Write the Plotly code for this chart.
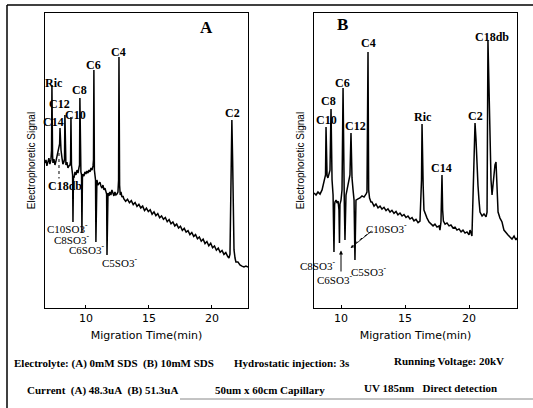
import plotly.graph_objects as go

# ---------------- data ----------------
# Panel A : 0 mM SDS   (time in min, signal in arbitrary units)
time_a = [
    6.75, 6.83, 6.90, 6.98, 7.06, 7.14, 7.22, 7.27, 7.30, 7.35, 7.38, 7.46, 7.54, 7.62, 7.70,
    7.78, 7.86, 7.91, 7.94, 7.98, 8.02, 8.10, 8.17, 8.25, 8.30, 8.33, 8.37, 8.41, 8.49, 8.57,
    8.65, 8.73, 8.78, 8.81, 8.85, 8.89, 8.94, 8.97, 9.01, 9.05, 9.13, 9.21, 9.29, 9.37, 9.44,
    9.49, 9.52, 9.56, 9.60, 9.65, 9.68, 9.72, 9.76, 9.84, 9.92, 10.00, 10.08, 10.16, 10.24, 10.32,
    10.40, 10.48, 10.56, 10.60, 10.63, 10.67, 10.71, 10.76, 10.79, 10.83, 10.87, 10.95, 11.03, 11.11, 11.19,
    11.27, 11.35, 11.43, 11.51, 11.59, 11.64, 11.67, 11.71, 11.75, 11.83, 11.90, 11.98, 12.06, 12.14, 12.22,
    12.30, 12.38, 12.46, 12.54, 12.59, 12.62, 12.67, 12.72, 12.78, 12.86, 12.94,
    13.00, 13.15, 13.30, 13.45, 13.60, 13.75, 13.90, 14.05, 14.20, 14.35, 14.50, 14.65, 14.80, 14.95,
    15.10, 15.25, 15.40, 15.55, 15.70, 15.85, 16.00, 16.15, 16.30, 16.45, 16.60, 16.75, 16.90, 17.05,
    17.20, 17.35, 17.50, 17.65, 17.80, 17.95, 18.10, 18.25, 18.40, 18.55, 18.70, 18.85, 19.00, 19.15,
    19.30, 19.45, 19.60, 19.75, 19.90, 20.05, 20.20, 20.35, 20.50, 20.65, 20.80, 20.95, 21.10, 21.25,
    21.35, 21.43, 21.51, 21.58, 21.64, 21.70, 21.75, 21.83, 21.90, 22.06, 22.22, 22.38, 22.54, 22.70, 22.86,
]
signal_a = [
    45.7, 46.7, 44.7, 46.0, 47.3, 45.3, 46.7, 50.0, 71.7, 48.3, 45.7, 47.0, 45.0, 46.3, 47.7,
    49.3, 50.7, 52.0, 57.3, 50.7, 50.0, 47.3, 45.3, 46.0, 47.0, 61.7, 46.0, 45.0, 46.0, 44.0,
    44.7, 45.0, 46.3, 61.0, 45.0, 42.7, 41.7, 26.0, 41.3, 40.7, 42.7, 41.7, 43.3, 42.3, 44.0,
    45.0, 67.3, 44.0, 42.7, 41.7, 22.3, 40.7, 42.0, 41.3, 42.7, 42.0, 43.0, 42.3, 43.3, 42.7,
    44.0, 43.3, 44.7, 46.7, 76.7, 43.3, 40.7, 40.0, 19.3, 39.3, 40.0, 38.3, 39.0, 39.3, 38.0,
    37.3, 38.3, 36.7, 37.3, 36.0, 35.3, 15.0, 35.0, 35.7, 34.7, 36.0, 35.0, 36.7, 35.7, 34.7,
    36.0, 35.0, 35.3, 36.0, 40.0, 81.0, 38.3, 35.0, 36.0, 34.3, 34.7,
    33.8, 32.9, 33.6, 32.4, 33.1, 31.8, 32.5, 31.2, 31.9, 30.7, 31.3, 29.8, 30.6, 29.5,
    30.1, 28.6, 29.4, 28.1, 28.8, 27.4, 28.0, 26.9, 27.5, 26.1, 26.8, 25.4, 26.0, 24.7,
    25.3, 24.0, 24.6, 23.2, 23.9, 22.6, 23.1, 21.8, 22.5, 21.2, 21.8, 20.4, 21.0, 19.6,
    20.3, 18.8, 19.5, 18.1, 18.9, 17.4, 18.0, 16.6, 17.3, 15.9, 16.5, 15.2, 15.8, 14.5,
    14.0, 15.3, 33.3, 60.0, 46.7, 23.3, 16.7, 14.0, 12.7, 12.7, 11.7, 11.3, 11.0, 11.3, 11.0,
]

# Panel B : 10 mM SDS
time_b = [
    7.89, 8.05, 8.20, 8.36, 8.52, 8.59, 8.67, 8.75, 8.79, 8.83, 8.87, 8.91, 8.98, 9.06, 9.14,
    9.22, 9.27, 9.30, 9.38, 9.45, 9.50, 9.53, 9.61, 9.69, 9.77, 9.84, 9.88, 9.92, 10.00, 10.08,
    10.16, 10.20, 10.26, 10.31, 10.37, 10.39, 10.47, 10.55, 10.63, 10.70, 10.78, 10.84, 10.86, 10.94, 11.02,
    11.09, 11.15, 11.17, 11.33, 11.48, 11.64, 11.80, 11.95, 12.03, 12.11, 12.16, 12.23, 12.34,
    12.42, 12.58, 12.73, 12.89, 13.05, 13.20, 13.36, 13.52, 13.67, 13.83, 13.98, 14.14, 14.30, 14.45,
    14.61, 14.77, 14.92, 15.08, 15.23, 15.39, 15.55, 15.70, 15.86, 16.02, 16.17,
    16.29, 16.33, 16.37, 16.42, 16.48, 16.56, 16.72, 16.88, 17.03, 17.19, 17.34, 17.50, 17.66, 17.73, 17.81,
    17.89, 17.94, 18.00, 18.13, 18.28, 18.44, 18.59, 18.75, 18.91, 19.06, 19.22, 19.38, 19.53, 19.69, 19.84,
    20.00, 20.08, 20.23, 20.31, 20.39, 20.47, 20.55, 20.63, 20.70, 20.78, 20.86, 21.02, 21.17, 21.33, 21.41,
    21.48, 21.56, 21.64, 21.72, 21.80, 21.88, 21.95, 22.03, 22.11, 22.19, 22.27, 22.42, 22.58, 22.73, 22.89,
    23.05, 23.20, 23.36, 23.52, 23.67, 23.75,
]
signal_b = [
    35.7, 35.0, 36.0, 35.3, 36.7, 38.3, 40.0, 40.7, 41.7, 57.7, 42.7, 41.3, 40.7, 42.0, 43.3,
    63.7, 41.7, 40.0, 35.0, 16.0, 31.7, 32.7, 33.3, 32.3, 33.0, 30.0, 19.0, 32.0, 33.3, 36.7,
    70.7, 36.7, 31.7, 20.0, 33.3, 35.0, 36.7, 38.3, 40.0, 41.7, 55.7, 43.3, 40.7, 36.7, 33.3,
    13.3, 31.7, 33.3, 33.7, 34.0, 34.7, 34.3, 35.3, 36.0, 82.7, 36.7, 34.0, 32.7,
    32.7, 31.3, 32.0, 30.7, 31.3, 30.3, 30.9, 29.8, 30.4, 29.3, 29.9, 28.9, 29.5, 28.4,
    29.0, 28.0, 28.5, 27.5, 28.0, 27.0, 27.5, 26.4, 26.9, 25.8, 26.3,
    40.0, 58.7, 45.0, 38.0, 30.0, 29.0, 27.3, 26.0, 25.3, 24.7, 25.3, 24.3, 24.7, 23.3, 26.0,
    41.7, 30.0, 26.3, 25.3, 25.7, 24.7, 25.0, 24.0, 24.3, 23.3, 23.7, 22.7, 23.3, 22.3, 22.7,
    21.7, 23.3, 21.3, 33.3, 53.3, 59.0, 53.3, 42.7, 38.3, 33.3, 29.3, 28.0, 28.7, 27.7, 29.3,
    86.7, 70.0, 50.0, 40.0, 35.0, 38.3, 43.3, 45.0, 46.0, 38.3, 29.3, 27.3, 26.0, 23.3, 22.3,
    21.7, 21.0, 20.3, 21.3, 20.0, 20.7,
]

x_ticks = [10, 15, 20]
peak_names_a = ["Ric", "C12", "C14", "C10", "C8", "C6", "C4", "C2"]
dip_names_a = ["C10SO3<sup>-</sup>", "C8SO3<sup>-</sup>", "C6SO3<sup>-</sup>", "C5SO3<sup>-</sup>"]
peak_names_b = ["C10", "C8", "C6", "C12", "C4", "Ric", "C14", "C2", "C18db"]
dip_names_b = ["C8SO3<sup>-</sup>", "C6SO3<sup>-</sup>", "C5SO3<sup>-</sup>", "C10SO3<sup>-</sup>"]
notes = [
    "Electrolyte: (A) 0mM SDS\u00a0\u00a0(B) 10mM SDS",
    "Hydrostatic injection: 3s",
    "Running Voltage: 20kV",
    "Current\u00a0\u00a0(A) 48.3uA\u00a0\u00a0(B) 51.3uA",
    "50um x 60cm Capillary",
    "UV 185nm\u00a0\u00a0\u00a0Direct detection",
]

# ---------------- figure ----------------
W, H = 533, 408
fig = go.Figure()
line_style = dict(color="black", width=1.5)
fig.add_trace(go.Scatter(x=time_a, y=signal_a, mode="lines", line=line_style,
                         xaxis="x", yaxis="y", showlegend=False, hoverinfo="x+y"))
fig.add_trace(go.Scatter(x=time_b, y=signal_b, mode="lines", line=line_style,
                         xaxis="x2", yaxis="y2", showlegend=False, hoverinfo="x+y"))

def px(x):
    return x / W

def py(y):
    return 1 - y / H

sans = "DejaVu Sans"
serif = "Liberation Serif"

xaxis_common = dict(
    showline=True, linecolor="black", linewidth=1.3, mirror=True,
    showgrid=False, zeroline=False, ticks="inside", ticklen=3, tickcolor="black",
    tickvals=x_ticks, tickfont=dict(family=sans, size=11, color="black"),
    title=dict(text="Migration Time(min)", font=dict(family=sans, size=11, color="black"), standoff=6),
    automargin=False,
)
yaxis_common = dict(
    showline=True, linecolor="black", linewidth=1.3, mirror=True,
    showgrid=False, zeroline=False, showticklabels=False, ticks="",
    range=[-2.667, 95.667],
    title=dict(text="Electrophoretic Signal", font=dict(family="Liberation Sans", size=10, color="black"), standoff=6),
    automargin=False,
)

fig.update_layout(
    width=W, height=H,
    margin=dict(l=0, r=0, t=0, b=0),
    paper_bgcolor="white", plot_bgcolor="white",
    xaxis=dict(domain=[px(45), px(248)], range=[6.75, 22.86], anchor="y", **xaxis_common),
    yaxis=dict(domain=[py(308), py(13)], anchor="x", **yaxis_common),
    xaxis2=dict(domain=[px(314), px(517)], range=[7.89, 23.75], anchor="y2", **xaxis_common),
    yaxis2=dict(domain=[py(308), py(13)], anchor="x2", **yaxis_common),
)

annotations = []

def label(text, x, y, ax_ref, size=12, bold=True):
    annotations.append(dict(
        text=f"<b>{text}</b>" if bold else text, x=x, y=y, xref=ax_ref[0], yref=ax_ref[1],
        showarrow=False, font=dict(family=serif, size=size, color="black"),
        xanchor="center", yanchor="middle"))

# panel A peak labels (placed near their peaks)
pos_a = [(7.46, 72.3), (7.88, 65.3), (7.46, 59.3), (9.18, 61.7), (9.52, 70.0),
         (10.63, 78.3), (12.62, 82.7), (21.59, 62.3)]
for name, (x, y) in zip(peak_names_a, pos_a):
    label(name, x, y, ("x", "y"))
label("C18db", 8.35, 38.0, ("x", "y"))
pos_dip_a = [(8.57, 24.0), (8.89, 20.3), (10.08, 17.0), (12.70, 12.7)]
for name, (x, y) in zip(dip_names_a, pos_dip_a):
    label(name, x, y, ("x", "y"), size=11, bold=False)
label("A", 19.6, 91.0, ("x", "y"), size=17)

# panel B
pos_b = [(8.83, 60.0), (9.06, 66.3), (10.08, 72.3), (11.17, 58.0), (12.11, 85.7),
         (16.41, 61.0), (17.89, 44.0), (20.47, 61.3), (21.80, 87.7)]
for name, (x, y) in zip(peak_names_b, pos_b):
    label(name, x, y, ("x2", "y2"))
pos_dip_b = [(8.20, 11.7), (9.53, 7.0), (12.11, 9.7), (13.59, 24.0)]
for name, (x, y) in zip(dip_names_b, pos_dip_b):
    label(name, x, y, ("x2", "y2"), size=11, bold=False)
label("B", 10.08, 91.7, ("x2", "y2"), size=17)

# arrows in panel B
annotations.append(dict(x=10.0, y=16.5, ax=10.0, ay=9.0, xref="x2", yref="y2",
                        axref="x2", ayref="y2", text="", showarrow=True,
                        arrowhead=2, arrowsize=0.8, arrowwidth=1, arrowcolor="black"))
annotations.append(dict(x=10.75, y=17.3, ax=12.4, ay=23.0, xref="x2", yref="y2",
                        axref="x2", ayref="y2", text="", showarrow=True,
                        arrowhead=2, arrowsize=0.8, arrowwidth=0.8, arrowcolor="black"))

# notes at bottom
note_pos = [(12, 363), (232, 363), (392, 361), (25, 390), (213, 390), (362, 388)]
for text, (x, y) in zip(notes, note_pos):
    annotations.append(dict(text=f"<b>{text}</b>", x=px(x), y=py(y), xref="paper", yref="paper",
                            showarrow=False, xanchor="left", yanchor="middle",
                            font=dict(family=serif, size=11, color="black")))

fig.update_layout(annotations=annotations)

# dotted leaders
fig.add_shape(type="line", xref="x", yref="y", x0=7.86, x1=7.86, y0=49.0, y1=40.5,
              line=dict(color="black", width=1, dash="dot"))
fig.add_shape(type="line", xref="x2", yref="y2", x0=12.4, x1=11.0, y0=23.0, y1=18.6,
              line=dict(color="black", width=1, dash="dot"))

# outer frame of the scanned figure
fig.add_shape(type="line", xref="paper", yref="paper", x0=px(7), x1=px(7), y0=0, y1=py(5),
              line=dict(color="black", width=1.5))
fig.add_shape(type="line", xref="paper", yref="paper", x0=px(7), x1=1, y0=py(5), y1=py(5),
              line=dict(color="black", width=1.5))
fig.add_shape(type="line", xref="paper", yref="paper", x0=px(180), x1=1, y0=py(399), y1=py(399),
              line=dict(color="#888888", width=1))

fig.write_html("out.html")
